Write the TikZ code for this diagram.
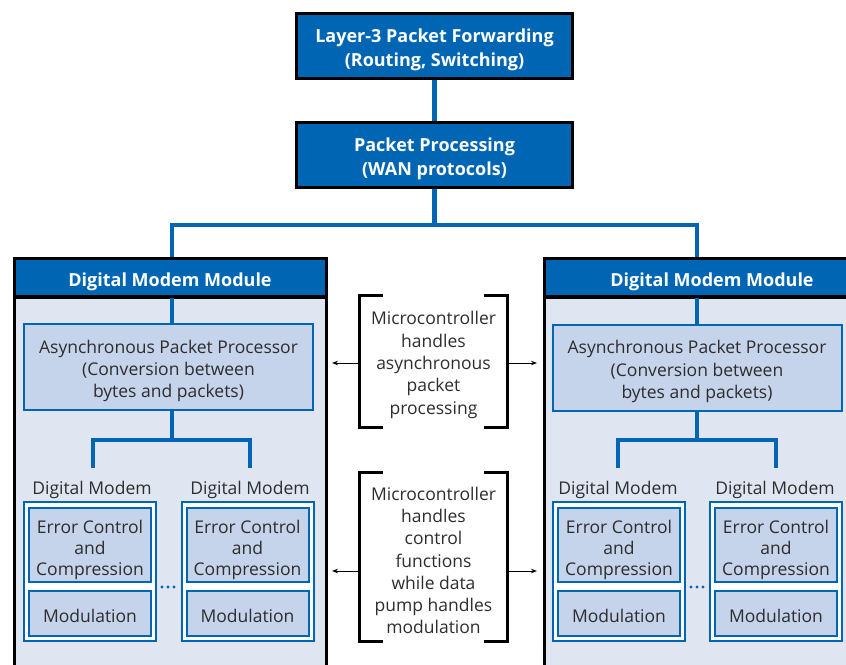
\documentclass[tikz,border=0pt]{standalone}
\usepackage{fontspec}
\setmainfont{Open Sans}
\usetikzlibrary{arrows.meta}
\definecolor{mblue}{RGB}{0,102,179}
\definecolor{bodyc}{RGB}{223,230,242}
\definecolor{boxc}{RGB}{197,211,235}
\definecolor{txtc}{RGB}{45,45,45}
\begin{document}
\begin{tikzpicture}[x=1pt,y=-1pt,
  bigfont/.style={font=\bfseries\fontsize{18}{24}\selectfont},
  regfont/.style={font=\fontsize{17.5}{22.3}\selectfont},
  ecfont/.style={font=\fontsize{17.5}{21}\selectfont},
  wtext/.style={text=white, bigfont, align=center, inner sep=0pt},
  dtext/.style={text=txtc, regfont, align=center, inner sep=0pt},
  etext/.style={text=txtc, ecfont, align=center, inner sep=0pt},
  topbox/.style={draw=black, line width=3pt, fill=mblue,
     minimum width=276pt, minimum height=65pt, inner sep=0pt,
     label={[wtext, yshift=-4pt]center:{#1}}},
  headbox/.style={draw=black, line width=3pt, fill=mblue,
     minimum height=38pt, inner sep=0pt,
     label={[wtext, yshift=-5pt]center:{#1}}},
  modbody/.style={draw=black, line width=3pt, fill=bodyc},
  conn/.style={draw=mblue, line width=4.5pt},
  apbox/.style={draw=mblue, line width=2pt, fill=boxc,
     minimum width=289pt, minimum height=86pt, inner sep=0pt,
     label={[dtext, yshift=-4pt]center:{#1}}},
  outerbox/.style={draw=mblue, line width=2pt, fill=white, minimum width=132pt, minimum height=139pt, inner sep=0pt},
  ecbox/.style={draw=mblue, line width=2pt, fill=boxc,
     minimum width=122pt, minimum height=74pt, inner sep=0pt,
     label={[etext, yshift=-4.5pt]center:{#1}}},
  mdbox/.style={draw=mblue, line width=2pt, fill=boxc,
     minimum width=122pt, minimum height=45pt, inner sep=0pt,
     label={[dtext, yshift=-2pt]center:{#1}}},
  lbl/.style={text=txtc, regfont, inner sep=0pt},
  note/.style={minimum width=147pt, inner sep=0pt,
     label={[dtext, yshift=-3.5pt]center:{#1}}},
  brk/.style={draw=black, line width=3pt},
  arr/.style={draw=black, line width=1pt, -{Stealth[length=6pt,width=4.5pt]}},
  dot/.style={fill=mblue}
]
\useasboundingbox (0,0) rectangle (846,664);
\clip (0,0) rectangle (846,664);

% top boxes
\node[topbox={Layer-3 Packet Forwarding\\(Routing, Switching)}] (l3) at (434.5,46) {};
\node[topbox={Packet Processing\\(WAN protocols)}] (pp) at (434.5,154.5) {};

% module bodies
\draw[modbody] (14,297) rectangle (326,700);
\draw[modbody] (544,297) rectangle (880,700);
\node[headbox={Digital Modem Module}, minimum width=312pt] (lhead) at (170,277) {};
\node[headbox={Digital Modem Module}, minimum width=336pt] (rhead) at (712,277) {};

% async packet processors
\node[apbox={Asynchronous Packet Processor\\(Conversion between\\bytes and packets)}] (lap) at (168.5,367) {};
\node[apbox={Asynchronous Packet Processor\\(Conversion between\\bytes and packets)}] (rap) at (697,367.5) {};

% digital modems (left)
\node[lbl] (lm1l) at (92,490) {Digital Modem};
\node[lbl] (lm2l) at (250,490) {Digital Modem};
\node[outerbox] (lm1) at (90,571.5) {};
\node[outerbox] (lm2) at (247.5,571.5) {};
\node[ecbox={Error Control\\and\\Compression}] (lm1e) at (90,545) {};
\node[mdbox={Modulation}] (lm1m) at (90,613.5) {};
\node[ecbox={Error Control\\and\\Compression}] (lm2e) at (247.5,545) {};
\node[mdbox={Modulation}] (lm2m) at (247.5,613.5) {};

% digital modems (right)
\node[lbl] (rm1l) at (618,490) {Digital Modem};
\node[lbl] (rm2l) at (775,490) {Digital Modem};
\node[outerbox] (rm1) at (619,571.5) {};
\node[outerbox] (rm2) at (776,571.5) {};
\node[ecbox={Error Control\\and\\Compression}] (rm1e) at (619,545) {};
\node[mdbox={Modulation}] (rm1m) at (619,613.5) {};
\node[ecbox={Error Control\\and\\Compression}] (rm2e) at (776,545) {};
\node[mdbox={Modulation}] (rm2m) at (776,613.5) {};

% ellipsis dots
\foreach \x in {162,168,174} \fill[dot] (\x,587) circle (1.6pt);
\foreach \x in {691,697,703} \fill[dot] (\x,587) circle (1.6pt);

% connectors
\coordinate (tj) at (434.5,225);
\coordinate (lt) at (172,257);
\coordinate (rt) at (697,257);
\draw[conn] (l3.south) -- (pp.north);
\draw[conn] (pp.south) -- (tj);
\draw[conn] (lt) |- (tj) -| (rt);
\draw[conn] (lhead.south -| lt) -- (lap.north -| lt);
\draw[conn] (rhead.south -| rt) -- (rap.north -| rt);
\coordinate (lj) at (172,440);
\coordinate (lleg1) at (93,468);
\coordinate (lleg2) at (250,468);
\draw[conn] (lap.south -| lj) -- (lj);
\draw[conn] (lleg1) |- (lj) -| (lleg2);
\coordinate (rj) at (697,440);
\coordinate (rleg1) at (618,468);
\coordinate (rleg2) at (776,468);
\draw[conn] (rap.south) -- (rj);
\draw[conn] (rleg1) |- (rj) -| (rleg2);

% notes with brackets
\node[note={Microcontroller\\handles\\asynchronous\\packet\\processing}, minimum height=131pt] (n1) at (433.5,361.5) {};
\node[note={Microcontroller\\handles\\control\\functions\\while data\\pump handles\\modulation}, minimum height=168pt] (n2) at (433.5,557) {};
\foreach \n in {n1,n2}{
  \draw[brk] ([xshift=23pt]\n.north west) -- (\n.north west) -- (\n.south west) -- ([xshift=23pt]\n.south west);
  \draw[brk] ([xshift=-23pt]\n.north east) -- (\n.north east) -- (\n.south east) -- ([xshift=-23pt]\n.south east);
}
\coordinate (a1l) at (332,363);
\coordinate (a1r) at (537,363);
\coordinate (a2l) at (332,571);
\coordinate (a2r) at (537,571);
\draw[arr] (n1.west |- a1l) -- (a1l);
\draw[arr] (n1.east |- a1r) -- (a1r);
\draw[arr] (n2.west |- a2l) -- (a2l);
\draw[arr] (n2.east |- a2r) -- (a2r);
\end{tikzpicture}
\end{document}
